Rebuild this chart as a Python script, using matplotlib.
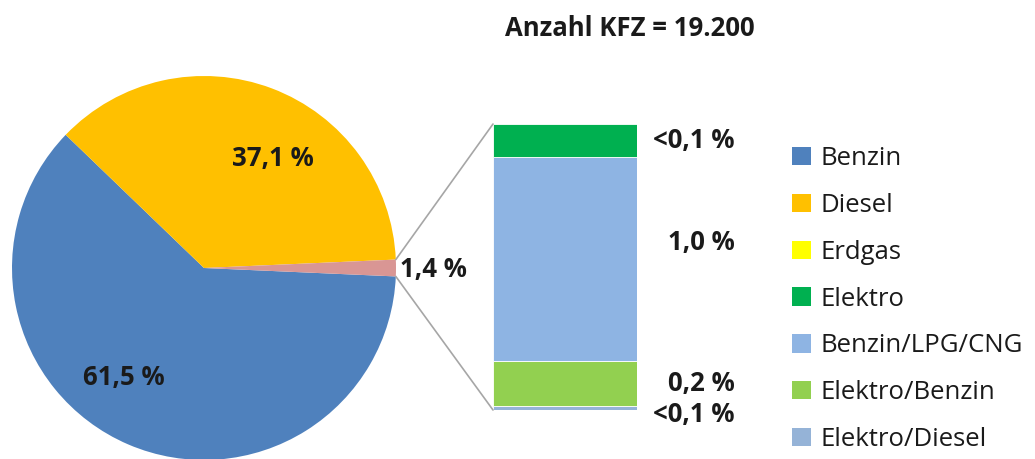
import numpy as np
import matplotlib
matplotlib.use('Agg')
import matplotlib.pyplot as plt
from matplotlib.patches import Patch, ConnectionPatch

plt.rcParams['font.family'] = ['Open Sans', 'DejaVu Sans']

# pie data (share of all cars, %)
pie_labels = ['Benzin', 'Diesel', 'Sonstige']
pie_values = [61.5, 37.1, 1.4]
pie_colors = ['#4F81BD', '#FFC000', '#D99694']
pie_texts = ['61,5 %', '37,1 %', '1,4 %']

# bar of "Sonstige" split, bottom to top (%)
bar_labels = ['Elektro/Diesel', 'Elektro/Benzin', 'Benzin/LPG/CNG', 'Erdgas', 'Elektro']
bar_values = [0.02, 0.22, 1.0, 0.0, 0.16]
bar_colors = ['#95B3D7', '#92D050', '#8EB4E3', '#FFFF00', '#00B050']
bar_texts = ['<0,1 %', '0,2 %', '1,0 %', '', '<0,1 %']

legend_labels = ['Benzin', 'Diesel', 'Erdgas', 'Elektro', 'Benzin/LPG/CNG', 'Elektro/Benzin', 'Elektro/Diesel']
legend_colors = ['#4F81BD', '#FFC000', '#FFFF00', '#00B050', '#8EB4E3', '#92D050', '#95B3D7']

W, H = 1035, 459
fig = plt.figure(figsize=(W / 100, H / 100), dpi=100)
txt = '#1a1a1a'
fs = 18.5

# pie axes, placed in pixel terms
cx, cy, r = 204, 268, 192
ax_pie = fig.add_axes([(cx - r) / W, (H - cy - r) / H, 2 * r / W, 2 * r / H])
start = -pie_values[2] / 100 * 360 / 2   # small slice centred on the right
wedges, _ = ax_pie.pie(pie_values, colors=pie_colors, startangle=start, counterclock=False,
                       radius=1, wedgeprops=dict(linewidth=0))
ax_pie.set_xlim(-1, 1)
ax_pie.set_ylim(-1, 1)
ax_pie.set_aspect('equal')
ax_pie.axis('off')

ax_pie.text(-0.42, -0.57, pie_texts[0], fontsize=fs, fontweight='bold', color=txt, ha='center', va='center')
ax_pie.text(0.36, 0.57, pie_texts[1], fontsize=fs, fontweight='bold', color=txt, ha='center', va='center')
ax_pie.text(1.02, -0.01, pie_texts[2], fontsize=fs, fontweight='bold', color=txt, ha='left', va='center')

# stacked bar
bx0, bx1, by0, by1 = 493, 637, 124, 410
ax_bar = fig.add_axes([bx0 / W, (H - by1) / H, (bx1 - bx0) / W, (by1 - by0) / H])
bottom = 0
for v, c in zip(bar_values, bar_colors):
    ax_bar.bar(0, v, bottom=bottom, width=1, color=c, edgecolor='white', linewidth=0.6)
    bottom += v
ax_bar.set_xlim(-0.5, 0.5)
ax_bar.set_ylim(0, sum(bar_values))
ax_bar.axis('off')

label_y = [-0.02, 0.13, 0.82, None, 1.32]
for t, y in zip(bar_texts, label_y):
    if t:
        ax_bar.text(1.68, y, t, transform=ax_bar.get_yaxis_transform(), fontsize=fs,
                    fontweight='bold', color=txt, ha='right', va='center')

# connector lines from the small slice to the bar
theta = np.deg2rad(-start)
for sgn, yb in [(1, sum(bar_values)), (-1, 0)]:
    con = ConnectionPatch(xyA=(np.cos(theta), sgn * np.sin(theta)), coordsA=ax_pie.transData,
                          xyB=(-0.5, yb), coordsB=ax_bar.transData, color='#A6A6A6', linewidth=1.2)
    fig.add_artist(con)

fig.text(630 / W, 1 - 29 / H, 'Anzahl KFZ = 19.200', fontsize=fs, fontweight='bold',
         color=txt, ha='center', va='center')

handles = [Patch(facecolor=c, edgecolor='none') for c in legend_colors]
fig.legend(handles, legend_labels, loc='upper left', bbox_to_anchor=(792 / W, 1 - 146 / H),
           frameon=False, fontsize=fs, handlelength=0.72, handleheight=0.72, handletextpad=0.4,
           labelspacing=0.85, borderaxespad=0, borderpad=0, labelcolor=txt)

fig.savefig('out.png', dpi=100)
